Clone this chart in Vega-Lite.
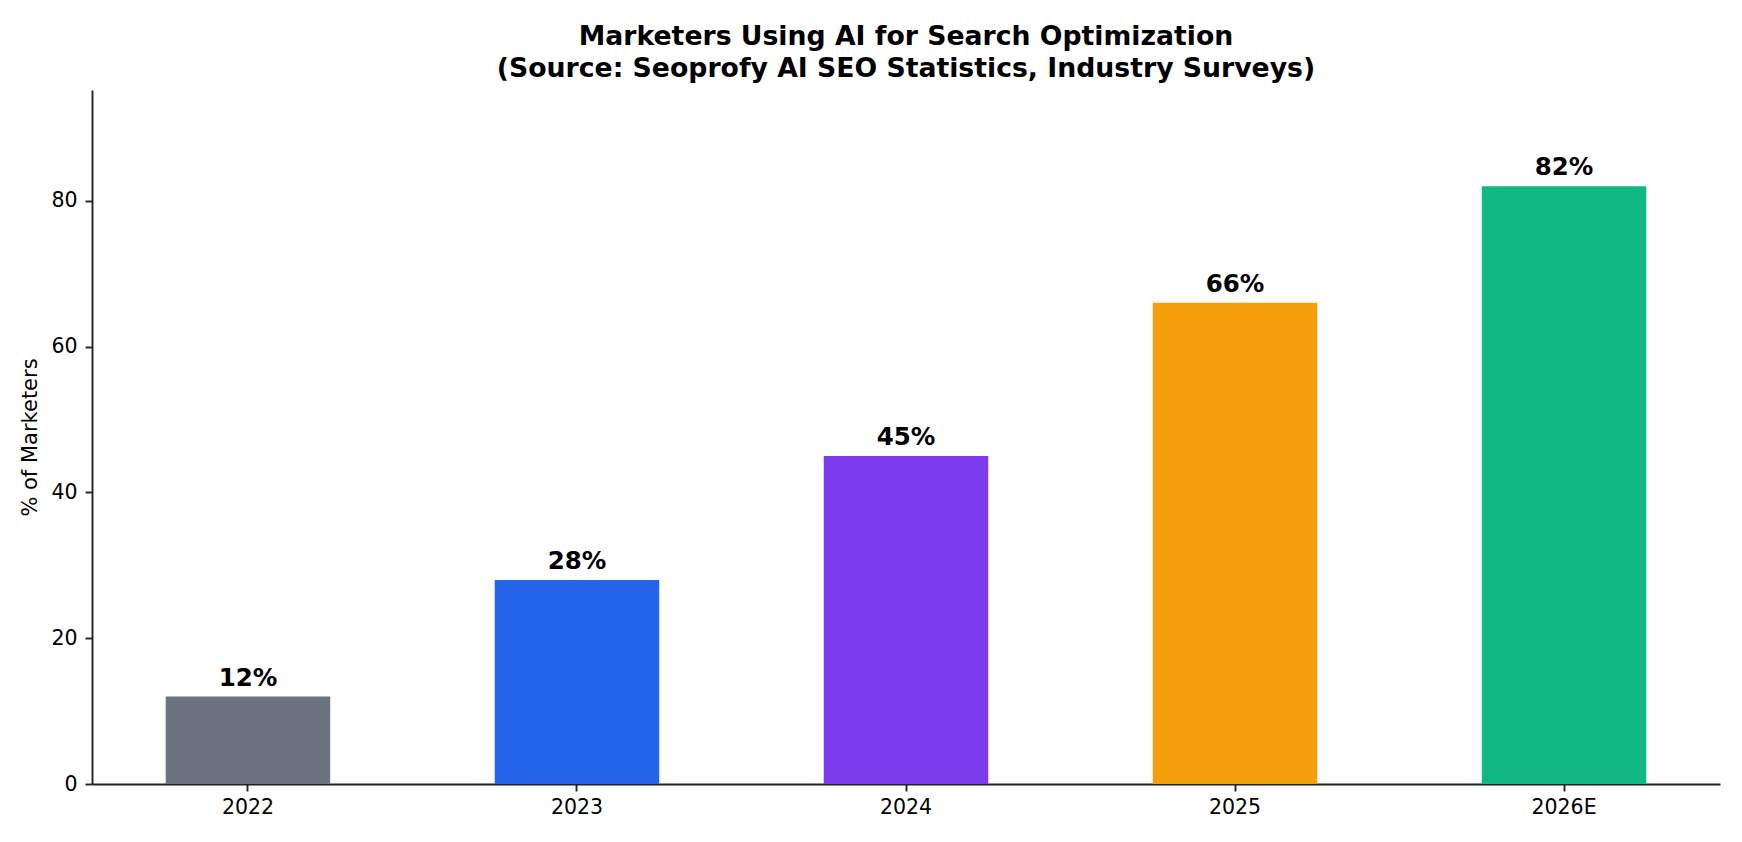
{
  "$schema": "https://vega.github.io/schema/vega-lite/v6.json",
  "autosize": {"type": "none"},
  "padding": {"left": 92, "top": 90, "right": 22, "bottom": 58},
  "width": 1628,
  "height": 694,
  "background": "white",
  "title": {
    "text": ["Marketers Using AI for Search Optimization", "(Source: Seoprofy AI SEO Statistics, Industry Surveys)"],
    "font": "DejaVu Sans",
    "fontSize": 26.7,
    "fontWeight": "bold",
    "color": "black",
    "anchor": "middle",
    "lineHeight": 32,
    "offset": 7.5
  },
  "data": {
    "values": [
      {"year": "2022", "pct": 12, "label": "12%"},
      {"year": "2023", "pct": 28, "label": "28%"},
      {"year": "2024", "pct": 45, "label": "45%"},
      {"year": "2025", "pct": 66, "label": "66%"},
      {"year": "2026E", "pct": 82, "label": "82%"}
    ]
  },
  "config": {
    "view": {"stroke": null},
    "axis": {
      "domainColor": "#222222",
      "tickColor": "#222222",
      "domainWidth": 1.9,
      "tickWidth": 1.9,
      "tickSize": 7,
      "labelColor": "black",
      "labelFont": "DejaVu Sans",
      "labelFontSize": 20.5,
      "titleFont": "DejaVu Sans",
      "titleFontSize": 21,
      "titleFontWeight": "normal",
      "titleColor": "black",
      "grid": false
    }
  },
  "layer": [
    {
      "mark": {"type": "bar"},
      "encoding": {
        "x": {
          "field": "year", "type": "ordinal", "sort": null,
          "scale": {"paddingInner": 0.5, "paddingOuter": 0.224},
          "axis": {"title": null, "labelAngle": 0, "labelPadding": 6}
        },
        "y": {
          "field": "pct", "type": "quantitative",
          "scale": {"domain": [0, 95.2], "nice": false, "zero": true},
          "axis": {"title": "% of Marketers", "values": [0, 20, 40, 60, 80], "labelPadding": 8, "titlePadding": 10}
        },
        "color": {
          "field": "year", "type": "nominal", "sort": null,
          "scale": {"domain": ["2022", "2023", "2024", "2025", "2026E"], "range": ["#6B7280", "#2563EB", "#7C3AED", "#F59E0B", "#10B981"]},
          "legend": null
        }
      }
    },
    {
      "mark": {"type": "text", "font": "DejaVu Sans", "fontSize": 24.5, "fontWeight": "bold", "color": "black", "baseline": "alphabetic", "align": "center", "dy": -11},
      "encoding": {
        "x": {"field": "year", "type": "ordinal", "sort": null},
        "y": {"field": "pct", "type": "quantitative"},
        "text": {"field": "label", "type": "nominal"}
      }
    }
  ]
}
